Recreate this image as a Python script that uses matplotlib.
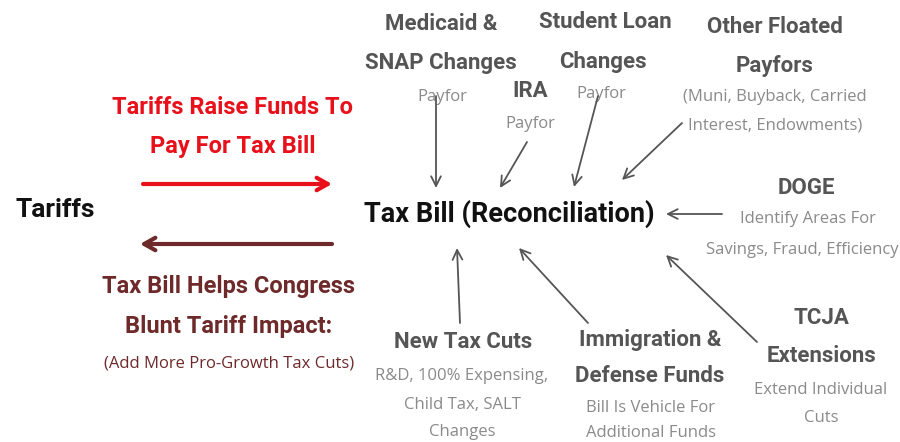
import matplotlib
matplotlib.use("Agg")
import matplotlib.pyplot as plt

HEAD_FONT = "Roboto"
SUB_FONT = "Open Sans"

DARK = "#111111"
GRAY_HEAD = "#555555"
GRAY_SUB = "#8a8a8a"
RED = "#e8101a"
MAROON = "#6e2a2a"

# heading lines: (text, x, y, size, color)
headings = [
    ("Tariffs", 55, 210, 19, DARK),
    ("Tax Bill (Reconciliation)", 509, 214, 19.5, DARK),
    ("Tariffs Raise Funds To", 233, 107, 17, RED),
    ("Pay For Tax Bill", 233, 147, 17, RED),
    ("Tax Bill Helps Congress", 229, 286, 17, MAROON),
    ("Blunt Tariff Impact:", 229, 326, 17, MAROON),
    ("Medicaid &", 441, 24, 16, GRAY_HEAD),
    ("SNAP Changes", 441, 63, 16, GRAY_HEAD),
    ("IRA", 530, 91, 16, GRAY_HEAD),
    ("Student Loan", 605, 22, 16, GRAY_HEAD),
    ("Changes", 603, 62, 16, GRAY_HEAD),
    ("Other Floated", 775, 27, 16, GRAY_HEAD),
    ("Payfors", 775, 66, 16, GRAY_HEAD),
    ("DOGE", 806, 188, 16, GRAY_HEAD),
    ("TCJA", 821, 318, 16, GRAY_HEAD),
    ("Extensions", 821, 356, 16, GRAY_HEAD),
    ("New Tax Cuts", 463, 342, 16, GRAY_HEAD),
    ("Immigration &", 650, 340, 16, GRAY_HEAD),
    ("Defense Funds", 650, 376, 16, GRAY_HEAD),
]

# smaller descriptive lines: (text, x, y, color)
subs = [
    ("(Add More Pro-Growth Tax Cuts)", 229, 364, MAROON),
    ("Payfor", 442, 97, GRAY_SUB),
    ("Payfor", 530, 124, GRAY_SUB),
    ("Payfor", 601, 94, GRAY_SUB),
    ("(Muni, Buyback, Carried", 775, 97, GRAY_SUB),
    ("Interest, Endowments)", 775, 126, GRAY_SUB),
    ("Identify Areas For", 808, 219, GRAY_SUB),
    ("Savings, Fraud, Efficiency", 802, 250, GRAY_SUB),
    ("Extend Individual", 821, 390, GRAY_SUB),
    ("Cuts", 821, 418, GRAY_SUB),
    ("R&D, 100% Expensing,", 462, 376, GRAY_SUB),
    ("Child Tax, SALT", 462, 405, GRAY_SUB),
    ("Changes", 462, 432, GRAY_SUB),
    ("Bill Is Vehicle For", 651, 408, GRAY_SUB),
    ("Additional Funds", 651, 433, GRAY_SUB),
]

# gray feeder arrows: (tail, head)
feeders = [
    ((436, 96), (436, 188)),
    ((527, 142), (500, 188)),
    ((598, 96), (574, 187)),
    ((682, 123), (622, 180)),
    ((722, 214), (666, 214)),
    ((460, 323), (457, 248)),
    ((588, 323), (519, 248)),
    ((757, 342), (666, 255)),
]

# the two flow arrows between Tariffs and the bill
flows = [
    ((143, 184), (332, 184), RED),
    ((332, 244), (140, 244), MAROON),
]

fig = plt.figure(figsize=(9, 4.42), dpi=100)
ax = fig.add_axes([0, 0, 1, 1])
ax.set_xlim(0, 900)
ax.set_ylim(442, 0)
ax.axis("off")

for t, x, y, s, c in headings:
    ax.text(x, y, t, fontsize=s, color=c, fontweight="bold", family=HEAD_FONT,
            ha="center", va="center")

for t, x, y, c in subs:
    ax.text(x, y, t, fontsize=12, color=c, family=SUB_FONT, ha="center", va="center")

for tail, head in feeders:
    ax.annotate("", xy=head, xytext=tail,
                arrowprops=dict(arrowstyle="->,head_length=0.7,head_width=0.35",
                                color="#555555", lw=1.3, shrinkA=0, shrinkB=0))

for tail, head, c in flows:
    ax.annotate("", xy=head, xytext=tail,
                arrowprops=dict(arrowstyle="->,head_length=0.8,head_width=0.45",
                                color=c, lw=3, shrinkA=0, shrinkB=0))

fig.savefig("out.png", dpi=100, facecolor="white")
